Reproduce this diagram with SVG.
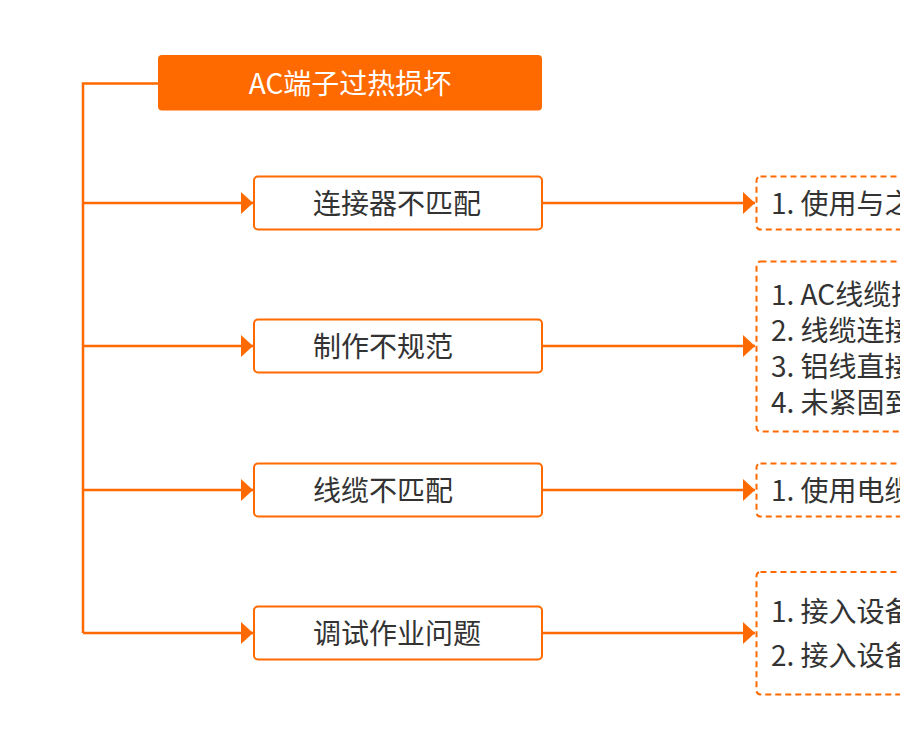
<svg xmlns="http://www.w3.org/2000/svg" width="900" height="750" viewBox="0 0 900 750">
<defs>
<style>
.t{font-family:"Noto Sans CJK SC","Noto Sans",sans-serif;font-size:28px;fill:#333333}
.node{fill:#ffffff;stroke:#FF6A00;stroke-width:2}
.res{fill:#ffffff;stroke:#FF6A00;stroke-width:2;stroke-dasharray:6 4}
.ln{fill:none;stroke:#FF6A00;stroke-width:2.5}
.ah{fill:#FF6A00}
</style>
<marker id="arr" markerUnits="userSpaceOnUse" markerWidth="12" markerHeight="22" refX="12" refY="11" orient="auto" viewBox="0 0 12 22">
<path d="M0,0 L12,11 L0,22 Z" class="ah"/>
</marker>
</defs>
<rect width="900" height="750" fill="#ffffff"/>
<g id="connectors">
<polyline class="ln" points="158,83.5 83,83.5 83,633"/>
<line class="ln" x1="83" y1="203" x2="253" y2="203" marker-end="url(#arr)"/>
<line class="ln" x1="83" y1="346" x2="253" y2="346" marker-end="url(#arr)"/>
<line class="ln" x1="83" y1="490" x2="253" y2="490" marker-end="url(#arr)"/>
<line class="ln" x1="83" y1="633" x2="253" y2="633" marker-end="url(#arr)"/>
<line class="ln" x1="542" y1="203" x2="755" y2="203" marker-end="url(#arr)"/>
<line class="ln" x1="542" y1="346" x2="755" y2="346" marker-end="url(#arr)"/>
<line class="ln" x1="542" y1="490" x2="755" y2="490" marker-end="url(#arr)"/>
<line class="ln" x1="542" y1="633" x2="755" y2="633" marker-end="url(#arr)"/>
</g>
<g id="root">
<rect x="158" y="55" width="384" height="55.5" rx="4" fill="#FF6A00"/>
<text class="t" x="350" y="93.5" text-anchor="middle" style="fill:#ffffff">AC端子过热损坏</text>
</g>
<g id="n1">
<rect class="node" x="254" y="176.5" width="288" height="53" rx="4"/>
<text class="t" x="313" y="214">连接器不匹配</text>
</g>
<g id="n2">
<rect class="node" x="254" y="319.5" width="288" height="53" rx="4"/>
<text class="t" x="313" y="357">制作不规范</text>
</g>
<g id="n3">
<rect class="node" x="254" y="463.5" width="288" height="53" rx="4"/>
<text class="t" x="313" y="501">线缆不匹配</text>
</g>
<g id="n4">
<rect class="node" x="254" y="606.5" width="288" height="53" rx="4"/>
<text class="t" x="313" y="644">调试作业问题</text>
</g>
<g id="r1">
<rect class="res" x="756.5" y="176.5" width="220" height="53" rx="4"/>
<text class="t" x="771" y="214">1. 使用与之</text>
</g>
<g id="r2">
<rect class="res" x="756.5" y="261.5" width="220" height="170" rx="4"/>
<text class="t" x="771" y="305">1. AC线缆接</text>
<text class="t" x="771" y="341">2. 线缆连接</text>
<text class="t" x="771" y="377">3. 铝线直接</text>
<text class="t" x="771" y="413">4. 未紧固到</text>
</g>
<g id="r3">
<rect class="res" x="756.5" y="463.5" width="220" height="53" rx="4"/>
<text class="t" x="771" y="501">1. 使用电缆</text>
</g>
<g id="r4">
<rect class="res" x="756.5" y="572" width="220" height="122.5" rx="4"/>
<text class="t" x="771" y="621.5">1. 接入设备</text>
<text class="t" x="771" y="665.5">2. 接入设备</text>
</g>
</svg>
